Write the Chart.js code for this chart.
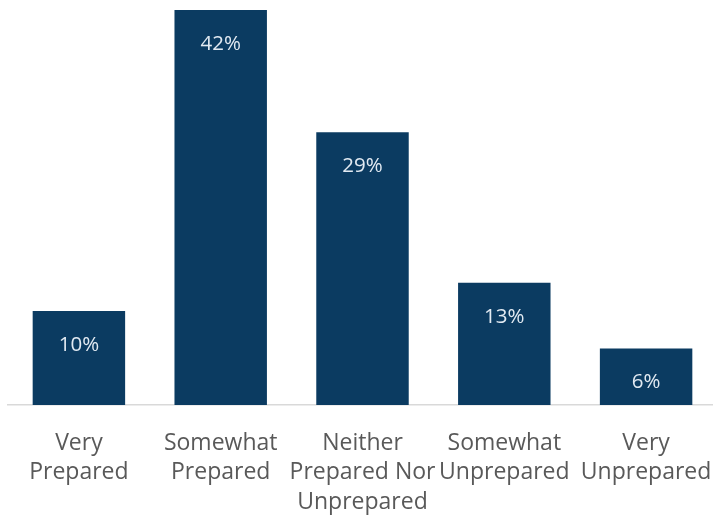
<!DOCTYPE html>
<html>
<head>
<meta charset="utf-8">
<script src="https://cdn.jsdelivr.net/npm/chart.js@4"></script>
<style>
  html, body { margin:0; padding:0; background:#fff; overflow:hidden; }
  #wrap { width:713px; height:515px; overflow:hidden; }
</style>
</head>
<body>
<div id="wrap"><canvas id="chart" width="725" height="515"></canvas></div>
<script>
/* ---------- Data ---------- */
const categories = [
  ['Very', 'Prepared'],
  ['Somewhat', 'Prepared'],
  ['Neither', 'Prepared Nor', 'Unprepared'],
  ['Somewhat', 'Unprepared'],
  ['Very', 'Unprepared']
];
const shares = [10, 42, 29, 13, 6];

const BAR_COLOR   = '#0b3b61';
const LABEL_COLOR = '#e2eaf2';
const TICK_COLOR  = '#595959';
const FONT        = "'Open Sans', 'DejaVu Sans', sans-serif";

// value text inside each bar, a fixed distance under its top
const barLabels = {
  id: 'barLabels',
  afterDatasetsDraw(chart){
    const ctx = chart.ctx;
    const meta = chart.getDatasetMeta(0);
    ctx.save();
    ctx.font = '400 20.5px ' + FONT;
    ctx.fillStyle = LABEL_COLOR;
    ctx.textAlign = 'center';
    ctx.textBaseline = 'middle';
    meta.data.forEach((bar, i)=>{
      ctx.fillText(shares[i] + '%', bar.x, bar.y + 34);
    });
    ctx.restore();
  }
};

new Chart(document.getElementById('chart'), {
  type: 'bar',
  data: {
    labels: categories,
    datasets: [{
      data: shares,
      backgroundColor: BAR_COLOR,
      borderWidth: 0,
      categoryPercentage: 1,
      barPercentage: 0.652
    }]
  },
  options: {
    responsive: false,
    animation: false,
    devicePixelRatio: 1,
    layout: { padding: { top: 10, left: 8, right: 8, bottom: 0 } },
    plugins: { legend: { display: false }, tooltip: { enabled: false } },
    scales: {
      x: {
        grid: { display: false, drawTicks: false },
        border: { display: true, color: '#d9d9d9', width: 1.5 },
        ticks: {
          color: TICK_COLOR,
          padding: 24,
          maxRotation: 0,
          autoSkip: false,
          font: { family: FONT, size: 23, lineHeight: 1.27 }
        },
        afterFit(scale){
          // fixed axis band; the outer labels may run to the edges
          scale.height = 110;
          scale.paddingLeft = 0;
          scale.paddingRight = 0;
        }
      },
      y: {
        display: false,
        min: 0,
        max: 42
      }
    }
  },
  plugins: [barLabels]
});
</script>
</body>
</html>
